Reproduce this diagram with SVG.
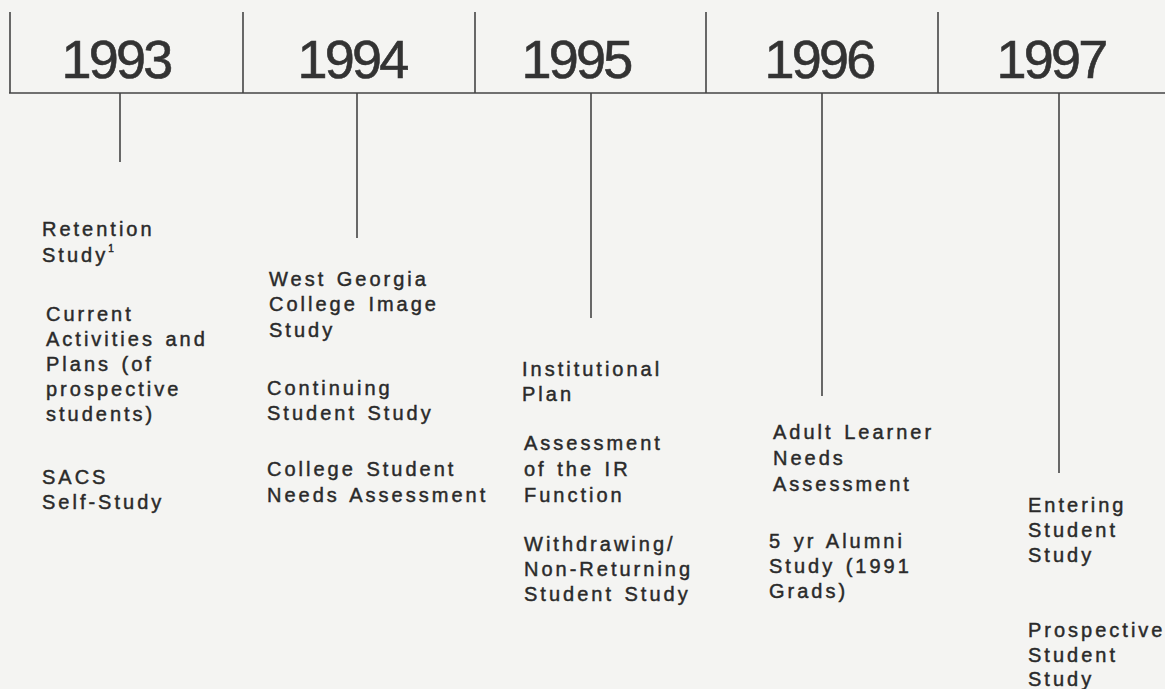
<svg xmlns="http://www.w3.org/2000/svg" width="1165" height="689" viewBox="0 0 1165 689">
<style>
.yr{font-family:"Liberation Sans",Arial,sans-serif;font-size:54px;fill:#333;stroke:#333;stroke-width:0.6;text-anchor:middle;letter-spacing:-2.8px}
.t{font-family:"Liberation Sans",Arial,sans-serif;font-size:20px;fill:#2a2a2a;stroke:#2a2a2a;stroke-width:0.45;letter-spacing:3px;word-spacing:2px}
.sup{font-size:10px;letter-spacing:0}
.ln{stroke:#444;stroke-width:1.6;fill:none}
</style>
<rect width="1165" height="689" fill="#f4f4f2"/>
<g id="connectors">
<line class="ln" x1="9" y1="93" x2="1165" y2="93"/>
<line class="ln" x1="10" y1="12" x2="10" y2="93"/>
<line class="ln" x1="243" y1="12" x2="243" y2="93"/>
<line class="ln" x1="475" y1="12" x2="475" y2="93"/>
<line class="ln" x1="706" y1="12" x2="706" y2="93"/>
<line class="ln" x1="938" y1="12" x2="938" y2="93"/>
<line class="ln" x1="120" y1="93" x2="120" y2="162"/>
<line class="ln" x1="357" y1="93" x2="357" y2="238"/>
<line class="ln" x1="591" y1="93" x2="591" y2="318"/>
<line class="ln" x1="822" y1="93" x2="822" y2="396"/>
<line class="ln" x1="1059" y1="93" x2="1059" y2="473"/>
</g>
<g id="year-1993"><text class="yr" x="116" y="78">1993</text></g>
<g id="year-1994"><text class="yr" x="352" y="78">1994</text></g>
<g id="year-1995"><text class="yr" x="576" y="78">1995</text></g>
<g id="year-1996"><text class="yr" x="819" y="78">1996</text></g>
<g id="year-1997"><text class="yr" x="1051" y="78">1997</text></g>
<g id="retention">
<text class="t" x="42" y="236">Retention</text>
<text class="t" x="42" y="262">Study<tspan class="sup" dy="-10">1</tspan></text>
</g>
<g id="current-activities">
<text class="t" x="46" y="321">Current</text>
<text class="t" x="46" y="346">Activities and</text>
<text class="t" x="46" y="371">Plans (of</text>
<text class="t" x="46" y="396">prospective</text>
<text class="t" x="46" y="421">students)</text>
</g>
<g id="sacs">
<text class="t" x="42" y="484">SACS</text>
<text class="t" x="42" y="509">Self-Study</text>
</g>
<g id="wgc-image">
<text class="t" x="269" y="286">West Georgia</text>
<text class="t" x="269" y="311">College Image</text>
<text class="t" x="269" y="337">Study</text>
</g>
<g id="continuing">
<text class="t" x="267" y="395">Continuing</text>
<text class="t" x="267" y="420">Student Study</text>
</g>
<g id="college-needs">
<text class="t" x="267" y="476">College Student</text>
<text class="t" x="267" y="502">Needs Assessment</text>
</g>
<g id="institutional-plan">
<text class="t" x="522" y="376">Institutional</text>
<text class="t" x="522" y="401">Plan</text>
</g>
<g id="ir-assessment">
<text class="t" x="524" y="450">Assessment</text>
<text class="t" x="524" y="476">of the IR</text>
<text class="t" x="524" y="502">Function</text>
</g>
<g id="withdrawing">
<text class="t" x="524" y="551">Withdrawing/</text>
<text class="t" x="524" y="576">Non-Returning</text>
<text class="t" x="524" y="601">Student Study</text>
</g>
<g id="adult-learner">
<text class="t" x="773" y="439">Adult Learner</text>
<text class="t" x="773" y="465">Needs</text>
<text class="t" x="773" y="491">Assessment</text>
</g>
<g id="alumni">
<text class="t" x="769" y="548">5 yr Alumni</text>
<text class="t" x="769" y="573">Study (1991</text>
<text class="t" x="769" y="598">Grads)</text>
</g>
<g id="entering">
<text class="t" x="1028" y="512">Entering</text>
<text class="t" x="1028" y="537">Student</text>
<text class="t" x="1028" y="562">Study</text>
</g>
<g id="prospective">
<text class="t" x="1028" y="637">Prospective</text>
<text class="t" x="1028" y="662">Student</text>
<text class="t" x="1028" y="686">Study</text>
</g>
</svg>
